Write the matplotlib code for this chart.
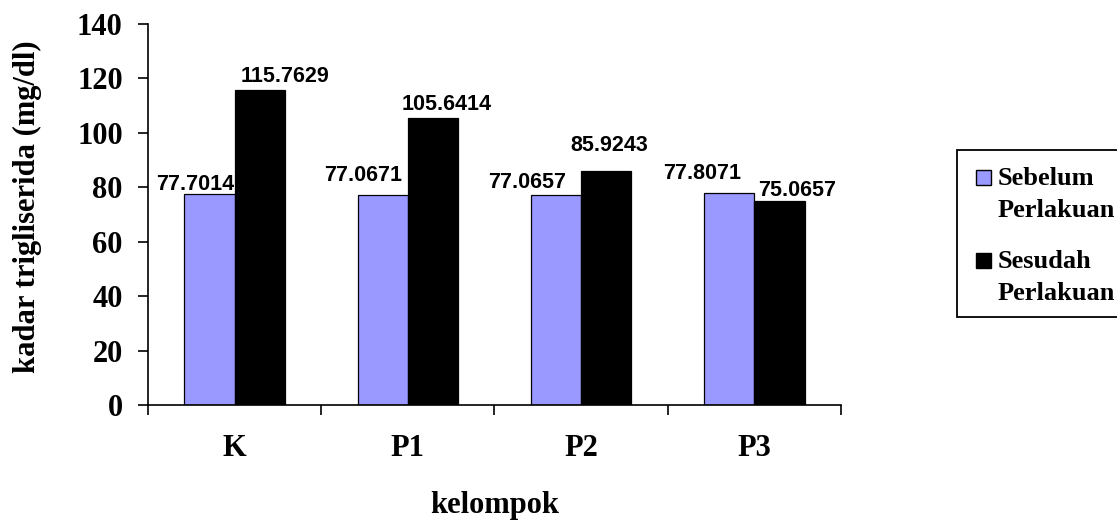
import matplotlib
matplotlib.use("Agg")
import matplotlib.pyplot as plt
from matplotlib.patches import Rectangle
import numpy as np

categories = ["K", "P1", "P2", "P3"]
sebelum = [77.7014, 77.0671, 77.0657, 77.8071]
sesudah = [115.7629, 105.6414, 85.9243, 75.0657]
series_names = [("Sebelum", "Perlakuan"), ("Sesudah", "Perlakuan")]
y_ticks = [0, 20, 40, 60, 80, 100, 120, 140]

# value-label nudges in pixels (dx from bar centre, dy from bar top to baseline)
nudge_sebelum = [(-14, 4), (-19.5, 14), (-28.5, 7), (-27, 14)]
nudge_sesudah = [(25.5, 8), (13.5, 8), (3.5, 20), (17.5, 5)]

serif = "Liberation Serif"
sans = "Liberation Sans"
colors = ["#9999FF", "black"]

W, H = 1117, 523
fig = plt.figure(figsize=(W / 100, H / 100), dpi=100)
ax = fig.add_axes([148 / W, 1 - 405 / H, 693 / W, 381 / H])

x = np.arange(len(categories))
w = 0.29
ax.bar(x - w / 2, sebelum, w, color=colors[0], edgecolor="black", linewidth=0.9)
ax.bar(x + w / 2, sesudah, w, color=colors[1], edgecolor="black", linewidth=0.9)

for xs, vals, nudges in ((x - w / 2, sebelum, nudge_sebelum), (x + w / 2, sesudah, nudge_sesudah)):
    for xi, v, (dx, dy) in zip(xs, vals, nudges):
        ax.annotate(f"{v:.4f}", xy=(xi, v), xytext=(dx, dy), textcoords="offset pixels",
                    ha="center", va="baseline", fontfamily=sans, fontweight="bold",
                    fontsize=15.5)

ax.set_xlim(-0.5, len(categories) - 0.5)
ax.set_ylim(0, 140)
ax.set_yticks(y_ticks)
ax.set_yticklabels([str(t) for t in y_ticks], fontfamily=serif, fontweight="bold", fontsize=22)
ax.tick_params(axis="y", direction="out", length=7.2, width=1.2, pad=11)

ax.set_xticks(np.arange(len(categories) + 1) - 0.5)
ax.set_xticklabels([])
ax.set_xticks(x, minor=True)
ax.set_xticklabels(categories, minor=True, fontfamily=serif, fontweight="bold", fontsize=22)
ax.tick_params(axis="x", which="major", direction="out", length=7, width=1.2)
ax.tick_params(axis="x", which="minor", length=0, pad=21)

for s in ["top", "right"]:
    ax.spines[s].set_visible(False)
for s in ["left", "bottom"]:
    ax.spines[s].set_linewidth(1.2)

ax.set_ylabel("kadar trigliserida (mg/dl)", fontfamily=serif, fontweight="bold", fontsize=22)
ax.yaxis.set_label_coords((42 - 148) / 693, (405 - 207) / 381)
ax.set_xlabel("kelompok", fontfamily=serif, fontweight="bold", fontsize=22, labelpad=20)


def fx(px):
    return px / W


def fy(py):
    return 1 - py / H


# legend box, running off the right edge of the canvas
frame = Rectangle((fx(957), fy(317)), fx(1140) - fx(957), fy(150) - fy(317),
                  transform=fig.transFigure, facecolor="white", edgecolor="black",
                  linewidth=1.3, clip_on=False)
fig.add_artist(frame)

entry_tops = [170, 253]
for (first, second), col, top in zip(series_names, colors, entry_tops):
    fig.add_artist(Rectangle((fx(976), fy(top + 15)), fx(15), 15 / H,
                             transform=fig.transFigure, facecolor=col,
                             edgecolor="black", linewidth=1.0))
    fig.text(fx(998), fy(top + 15), first, ha="left", va="baseline",
             fontfamily=serif, fontweight="bold", fontsize=19)
    fig.text(fx(998), fy(top + 47), second, ha="left", va="baseline",
             fontfamily=serif, fontweight="bold", fontsize=19)

fig.savefig("out.png", dpi=100)
